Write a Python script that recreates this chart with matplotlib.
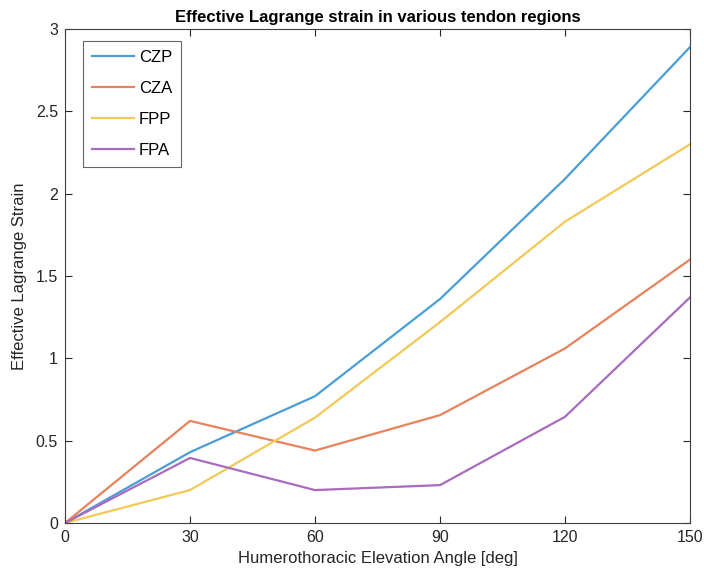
import matplotlib
matplotlib.use("Agg")
import matplotlib.pyplot as plt

angles = [0, 30, 60, 90, 120, 150]
czp = [0, 0.43, 0.77, 1.36, 2.09, 2.89]
cza = [0, 0.62, 0.44, 0.655, 1.06, 1.60]
fpp = [0, 0.20, 0.64, 1.22, 1.83, 2.30]
fpa = [0, 0.395, 0.20, 0.23, 0.645, 1.37]
series = [("CZP", czp, "#4a9ed8"), ("CZA", cza, "#e8825c"),
          ("FPP", fpp, "#f2c957"), ("FPA", fpa, "#a86bbd")]

plt.rcParams['font.family'] = ['Liberation Sans', 'DejaVu Sans']
fig = plt.figure(figsize=(7.04, 5.73), dpi=100)
ax = fig.add_axes([65/704, 50/573, 625/704, 494/573])
for name, vals, c in series:
    ax.plot(angles, vals, color=c, lw=1.6, label=name)

ax.set_xlim(0, 150)
ax.set_ylim(0, 3)
ax.set_xticks(angles)
ax.set_yticks([0, 0.5, 1, 1.5, 2, 2.5, 3])
ax.set_yticklabels(["0", "0.5", "1", "1.5", "2", "2.5", "3"])
ax.tick_params(direction='in', top=True, right=True, length=5, width=0.8,
               labelsize=11.5, colors='#262626', pad=5)
for s in ax.spines.values():
    s.set_color('#404040')
    s.set_linewidth(0.8)
ax.set_xlabel("Humerothoracic Elevation Angle [deg]", fontsize=12, color='#262626', labelpad=4)
ax.set_ylabel("Effective Lagrange Strain", fontsize=12, color='#262626', labelpad=6)
ax.set_title("Effective Lagrange strain in various tendon regions", fontsize=12,
             fontweight='bold', color='black', pad=5)
leg = ax.legend(loc='upper left', bbox_to_anchor=(18/625, 482/494), borderaxespad=0,
                fontsize=12, frameon=True, fancybox=False, edgecolor='#404040',
                handlelength=2.5, labelspacing=0.95, borderpad=0.55, handletextpad=0.3)
leg.get_frame().set_linewidth(0.8)
fig.savefig("out.png", dpi=100, facecolor='white')
